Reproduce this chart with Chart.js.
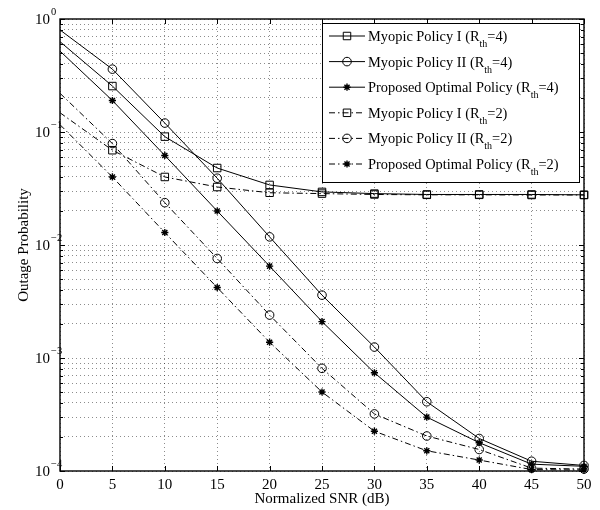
<!DOCTYPE html>
<html>
<head>
<meta charset="utf-8">
<script src="https://cdn.jsdelivr.net/npm/chart.js@4.4.1/dist/chart.umd.min.js"></script>
<style>
  body { margin: 0; background: #fff; }
  #wrap { width: 600px; height: 510px; }
</style>
</head>
<body>
<div id="wrap"><canvas id="outageChart" width="600" height="510"></canvas></div>
<script>
// values
const snr = [0, 5, 10, 15, 20, 25, 30, 35, 40, 45, 50];
const myopic1R4 = [0.63, 0.255, 0.091, 0.048, 0.034, 0.0295, 0.0285, 0.028, 0.028, 0.028, 0.0278];
const myopic2R4 = [0.80, 0.36, 0.12, 0.039, 0.0118, 0.0036, 0.00125, 0.00041, 0.000194, 0.000122, 0.000112];
const optimalR4 = [0.52, 0.19, 0.062, 0.020, 0.0065, 0.0021, 0.00074, 0.0003, 0.000178, 0.000115, 0.00011];
const myopic1R2 = [0.148, 0.069, 0.040, 0.0326, 0.029, 0.0285, 0.028, 0.0278, 0.0278, 0.0277, 0.0277];
const myopic2R2 = [0.22, 0.079, 0.0237, 0.0076, 0.0024, 0.00081, 0.00032, 0.000204, 0.000155, 0.000106, 0.000104];
const optimalR2 = [0.116, 0.040, 0.0129, 0.0042, 0.00138, 0.0005, 0.000225, 0.000151, 0.000125, 0.000103, 0.000102];
const yExponents = [-4, -3, -2, -1, 0];
const legendNames = ['Myopic Policy I (R', 'Myopic Policy II (R', 'Proposed Optimal Policy (R',
                     'Myopic Policy I (R', 'Myopic Policy II (R', 'Proposed Optimal Policy (R'];
const legendRth = ['4', '4', '4', '2', '2', '2'];

const FONT = '"Liberation Serif", "Times New Roman", serif';
const dashDot = [6, 3, 1.5, 3];

function series(label, values, style, radius, dash) {
    return {
        label: label,
        data: snr.map((v, i) => ({ x: v, y: values[i] })),
        borderColor: '#000',
        borderWidth: 1,
        borderDash: dash,
        pointStyle: style,
        pointRadius: snr.map(v => v === 0 ? 0 : radius),
        pointHoverRadius: 0,
        pointBorderColor: '#000',
        pointBackgroundColor: 'rgba(0,0,0,0)',
        pointBorderWidth: style === 'star' ? 1.4 : 1,
        tension: 0,
        fill: false,
        clip: false
    };
}

const datasets = [
    series('Myopic Policy I (Rth=4)', myopic1R4, 'rect', 5.3, []),
    series('Myopic Policy II (Rth=4)', myopic2R4, 'circle', 4.3, []),
    series('Proposed Optimal Policy (Rth=4)', optimalR4, 'star', 3.6, []),
    series('Myopic Policy I (Rth=2)', myopic1R2, 'rect', 5.3, dashDot),
    series('Myopic Policy II (Rth=2)', myopic2R2, 'circle', 4.3, dashDot),
    series('Proposed Optimal Policy (Rth=2)', optimalR2, 'star', 3.6, dashDot)
];

function marker(ctx, style, r, x, y) {
    ctx.beginPath();
    if (style === 'rect') {
        const s = r * Math.SQRT1_2;
        ctx.rect(x - s, y - s, 2 * s, 2 * s);
    } else if (style === 'circle') {
        ctx.arc(x, y, r, 0, Math.PI * 2);
    } else {
        for (let k = 0; k < 4; k++) {
            const a = k * Math.PI / 4;
            ctx.moveTo(x - Math.cos(a) * r, y - Math.sin(a) * r);
            ctx.lineTo(x + Math.cos(a) * r, y + Math.sin(a) * r);
        }
    }
    ctx.stroke();
}

const decorations = {
    id: 'decorations',
    afterDatasetsDraw(chart) {
        const { ctx, chartArea: a, scales: { x, y } } = chart;
        ctx.save();
        ctx.strokeStyle = '#000';
        ctx.fillStyle = '#000';
        ctx.setLineDash([]);

        // frame
        ctx.lineWidth = 1.4;
        ctx.strokeRect(a.left, a.top, a.right - a.left, a.bottom - a.top);

        // inward ticks
        ctx.lineWidth = 1;
        ctx.beginPath();
        snr.forEach(v => {
            const px = Math.round(x.getPixelForValue(v)) + 0.5;
            ctx.moveTo(px, a.bottom); ctx.lineTo(px, a.bottom - 5);
            ctx.moveTo(px, a.top); ctx.lineTo(px, a.top + 5);
        });
        yExponents.forEach(e => {
            for (let m = 1; m <= 9; m++) {
                if (e === 0 && m > 1) break;
                const py = Math.round(y.getPixelForValue(m * Math.pow(10, e))) + 0.5;
                const len = m === 1 ? 5 : 3;
                ctx.moveTo(a.left, py); ctx.lineTo(a.left + len, py);
                ctx.moveTo(a.right, py); ctx.lineTo(a.right - len, py);
            }
        });
        ctx.stroke();

        // x tick labels
        ctx.font = '15px ' + FONT;
        ctx.textAlign = 'center';
        ctx.textBaseline = 'alphabetic';
        snr.forEach(v => ctx.fillText(String(v), x.getPixelForValue(v), 489));

        // y tick labels 10^e
        yExponents.forEach(e => {
            const py = y.getPixelForValue(Math.pow(10, e));
            ctx.font = '15px ' + FONT;
            ctx.textAlign = 'right';
            ctx.fillText('10', 50, py + 5);
            ctx.font = '10.5px ' + FONT;
            ctx.textAlign = 'left';
            ctx.fillText(e === 0 ? '0' : '\u2212' + Math.abs(e), 51, py - 4);
        });

        // axis titles
        ctx.font = '15px ' + FONT;
        ctx.textAlign = 'center';
        ctx.fillText('Normalized SNR (dB)', (a.left + a.right) / 2, 503);
        ctx.save();
        ctx.translate(28, (a.top + a.bottom) / 2);
        ctx.rotate(-Math.PI / 2);
        ctx.fillText('Outage Probability', 0, 0);
        ctx.restore();

        // legend
        const lx = 322, ly = 23, lw = 257, lh = 159;
        ctx.fillStyle = '#fff';
        ctx.fillRect(lx, ly, lw, lh);
        ctx.lineWidth = 1;
        ctx.strokeStyle = '#000';
        ctx.strokeRect(lx + 0.5, ly + 0.5, lw, lh);
        ctx.fillStyle = '#000';
        datasets.forEach((ds, i) => {
            const cy = 36 + i * 25.6;
            ctx.lineWidth = 1;
            ctx.setLineDash(ds.borderDash);
            ctx.beginPath();
            ctx.moveTo(329, cy); ctx.lineTo(365, cy);
            ctx.stroke();
            ctx.setLineDash([]);
            ctx.lineWidth = ds.pointBorderWidth;
            marker(ctx, ds.pointStyle, ds.pointRadius[1], 347, cy);
            let tx = 368;
            ctx.textAlign = 'left';
            ctx.font = '14.4px ' + FONT;
            ctx.fillText(legendNames[i], tx, cy + 5);
            tx += ctx.measureText(legendNames[i]).width;
            ctx.font = '10px ' + FONT;
            ctx.fillText('th', tx, cy + 11);
            tx += ctx.measureText('th').width;
            ctx.font = '14.4px ' + FONT;
            ctx.fillText('=' + legendRth[i] + ')', tx, cy + 5);
        });
        ctx.restore();
    }
};

const ctx = document.getElementById('outageChart').getContext('2d');
const outageChart = new Chart(ctx, {
    type: 'line',
    data: { datasets: datasets },
    options: {
        responsive: false,
        animation: false,
        events: [],
        layout: { padding: { top: 19, right: 16, left: 0, bottom: 0 } },
        plugins: { legend: { display: false }, tooltip: { enabled: false } },
        scales: {
            x: {
                type: 'linear',
                min: 0,
                max: 50,
                afterBuildTicks: scale => { scale.ticks = snr.map(v => ({ value: v })); },
                afterFit: scale => { scale.height = 39; },
                ticks: { display: false },
                grid: { color: 'rgba(0,0,0,0.45)', drawTicks: false, lineWidth: 1 },
                border: { display: false, dash: [1, 3] }
            },
            y: {
                type: 'logarithmic',
                min: 1e-4,
                max: 1,
                afterBuildTicks: scale => {
                    const t = [];
                    yExponents.forEach(e => {
                        for (let m = 1; m <= 9; m++) {
                            if (e === 0 && m > 1) break;
                            t.push({ value: m * Math.pow(10, e) });
                        }
                    });
                    scale.ticks = t;
                },
                afterFit: scale => { scale.width = 60; },
                ticks: { display: false },
                grid: { color: 'rgba(0,0,0,0.45)', drawTicks: false, lineWidth: 1 },
                border: { display: false, dash: [1, 3] }
            }
        }
    },
    plugins: [decorations]
});
</script>
</body>
</html>
